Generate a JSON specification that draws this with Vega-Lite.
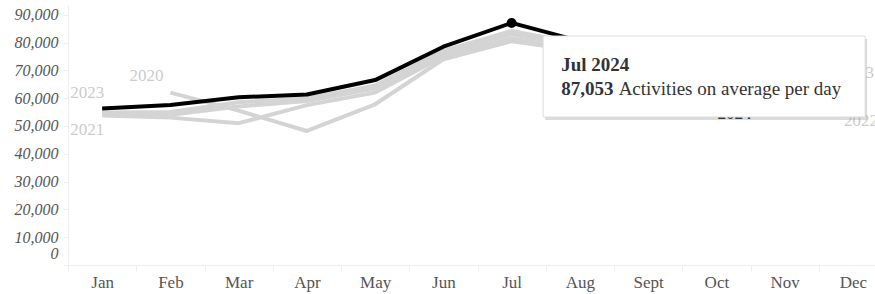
{
  "$schema": "https://vega.github.io/schema/vega-lite/v6.json",
  "width": 807,
  "height": 260,
  "autosize": "none",
  "padding": {"left": 68, "top": 5, "right": 0, "bottom": 29},
  "background": "white",
  "config": {"view": {"stroke": null}, "font": "Liberation Serif"},
  "datasets": {
    "activity": [
      {"year": 2020, "month": "Feb", "value": 62000},
      {"year": 2020, "month": "Mar", "value": 55500},
      {"year": 2020, "month": "Apr", "value": 48200},
      {"year": 2020, "month": "May", "value": 57800},
      {"year": 2020, "month": "Jun", "value": 74000},
      {"year": 2020, "month": "Jul", "value": 80500},
      {"year": 2020, "month": "Aug", "value": 77000},
      {"year": 2020, "month": "Sept", "value": 70000},
      {"year": 2020, "month": "Oct", "value": 65000},
      {"year": 2020, "month": "Nov", "value": 62000},
      {"year": 2020, "month": "Dec", "value": 60000},
      {"year": 2021, "month": "Jan", "value": 53800},
      {"year": 2021, "month": "Feb", "value": 53000},
      {"year": 2021, "month": "Mar", "value": 51000},
      {"year": 2021, "month": "Apr", "value": 57500},
      {"year": 2021, "month": "May", "value": 62000},
      {"year": 2021, "month": "Jun", "value": 75000},
      {"year": 2021, "month": "Jul", "value": 81500},
      {"year": 2021, "month": "Aug", "value": 77500},
      {"year": 2021, "month": "Sept", "value": 70000},
      {"year": 2021, "month": "Oct", "value": 64000},
      {"year": 2021, "month": "Nov", "value": 60000},
      {"year": 2021, "month": "Dec", "value": 58000},
      {"year": 2022, "month": "Jan", "value": 54200},
      {"year": 2022, "month": "Feb", "value": 54000},
      {"year": 2022, "month": "Mar", "value": 57000},
      {"year": 2022, "month": "Apr", "value": 59000},
      {"year": 2022, "month": "May", "value": 63500},
      {"year": 2022, "month": "Jun", "value": 76000},
      {"year": 2022, "month": "Jul", "value": 83000},
      {"year": 2022, "month": "Aug", "value": 78500},
      {"year": 2022, "month": "Sept", "value": 70000},
      {"year": 2022, "month": "Oct", "value": 66000},
      {"year": 2022, "month": "Nov", "value": 60000},
      {"year": 2022, "month": "Dec", "value": 57000},
      {"year": 2023, "month": "Jan", "value": 54800},
      {"year": 2023, "month": "Feb", "value": 55000},
      {"year": 2023, "month": "Mar", "value": 58500},
      {"year": 2023, "month": "Apr", "value": 60000},
      {"year": 2023, "month": "May", "value": 64500},
      {"year": 2023, "month": "Jun", "value": 77000},
      {"year": 2023, "month": "Jul", "value": 84200},
      {"year": 2023, "month": "Aug", "value": 79500},
      {"year": 2023, "month": "Sept", "value": 72000},
      {"year": 2023, "month": "Oct", "value": 66000},
      {"year": 2023, "month": "Nov", "value": 64000},
      {"year": 2023, "month": "Dec", "value": 64000},
      {"year": 2024, "month": "Jan", "value": 56300},
      {"year": 2024, "month": "Feb", "value": 57500},
      {"year": 2024, "month": "Mar", "value": 60300},
      {"year": 2024, "month": "Apr", "value": 61300},
      {"year": 2024, "month": "May", "value": 66500},
      {"year": 2024, "month": "Jun", "value": 78500},
      {"year": 2024, "month": "Jul", "value": 87053},
      {"year": 2024, "month": "Aug", "value": 80500},
      {"year": 2024, "month": "Sept", "value": 68000},
      {"year": 2024, "month": "Oct", "value": 58000}
    ]
  },
  "data": {"name": "activity"},
  "encoding": {
    "x": {
      "field": "month",
      "type": "ordinal",
      "sort": ["Jan", "Feb", "Mar", "Apr", "May", "Jun", "Jul", "Aug", "Sept", "Oct", "Nov", "Dec"],
      "scale": {"domain": ["Jan", "Feb", "Mar", "Apr", "May", "Jun", "Jul", "Aug", "Sept", "Oct", "Nov", "Dec"], "range": [0, 819], "paddingInner": 0, "paddingOuter": 0},
      "axis": {
        "title": null,
        "labelAngle": 0,
        "labelFont": "Liberation Serif",
        "labelFontSize": 17,
        "labelColor": "#555555",
        "labelPadding": 3,
        "domainColor": "#eeeeee",
        "tickColor": "#eeeeee",
        "tickBand": "extent",
        "tickSize": 6,
        "grid": false
      }
    },
    "y": {
      "field": "value",
      "type": "quantitative",
      "scale": {"domain": [0, 93500], "nice": false},
      "axis": {
        "title": null,
        "values": [0, 10000, 20000, 30000, 40000, 50000, 60000, 70000, 80000, 90000],
        "labelExpr": "format(datum.value, ',')",
        "labelOverlap": false,
        "labelFlush": false,
        "labelFont": "Liberation Serif",
        "labelFontSize": 16,
        "labelFontStyle": "italic",
        "labelColor": "#555555",
        "labelPadding": 5,
        "labelOffset": {"condition": {"test": "datum.value === 0", "value": -12}, "value": 0},
        "domainColor": "#eeeeee",
        "tickColor": "#eeeeee",
        "tickSize": 5,
        "grid": false
      }
    }
  },
  "layer": [
    {
      "transform": [{"filter": "datum.year !== 2024"}],
      "mark": {"type": "line", "color": "#d4d4d4", "strokeWidth": 4, "strokeJoin": "round"},
      "encoding": {"detail": {"field": "year", "type": "nominal"}}
    },
    {
      "transform": [{"filter": "datum.year === 2024"}],
      "mark": {"type": "line", "color": "#000000", "strokeWidth": 4, "strokeJoin": "round"}
    },
    {
      "transform": [{"filter": "datum.year === 2024 && datum.month === 'Jul'"}],
      "mark": {"type": "point", "filled": true, "color": "#000000", "size": 100, "opacity": 1}
    },
    {
      "transform": [{"filter": "datum.year === 2023 && datum.month === 'Jan'"}],
      "mark": {"type": "text", "color": "#cccccc", "fontSize": 17, "dx": -15, "dy": -20, "baseline": "middle"},
      "encoding": {"text": {"field": "year", "type": "nominal"}}
    },
    {
      "transform": [{"filter": "datum.year === 2021 && datum.month === 'Jan'"}],
      "mark": {"type": "text", "color": "#cccccc", "fontSize": 17, "dx": -15, "dy": 15, "baseline": "middle"},
      "encoding": {"text": {"field": "year", "type": "nominal"}}
    },
    {
      "transform": [{"filter": "datum.year === 2020 && datum.month === 'Feb'"}],
      "mark": {"type": "text", "color": "#cccccc", "fontSize": 17, "dx": -24, "dy": -17, "baseline": "middle"},
      "encoding": {"text": {"field": "year", "type": "nominal"}}
    },
    {
      "transform": [{"filter": "datum.year === 2023 && datum.month === 'Dec'"}],
      "mark": {"type": "text", "color": "#cccccc", "fontSize": 17, "dx": 4, "dy": -14, "baseline": "middle"},
      "encoding": {"text": {"field": "year", "type": "nominal"}}
    },
    {
      "transform": [{"filter": "datum.year === 2022 && datum.month === 'Dec'"}],
      "mark": {"type": "text", "color": "#cccccc", "fontSize": 17, "dx": 8, "dy": 15, "baseline": "middle"},
      "encoding": {"text": {"field": "year", "type": "nominal"}}
    },
    {
      "transform": [{"filter": "datum.year === 2024 && datum.month === 'Oct'"}],
      "mark": {"type": "text", "color": "#000000", "fontSize": 17, "fontWeight": "bold", "dx": 18, "dy": 10, "baseline": "middle"},
      "encoding": {"text": {"field": "year", "type": "nominal"}}
    },
    {
      "transform": [{"filter": "datum.year === 2024 && datum.month === 'Jul'"}],
      "mark": {"type": "rect", "fill": "#999999", "opacity": 0.35, "width": 322, "xOffset": 194.5, "yOffset": 3, "y2Offset": 3},
      "encoding": {
        "y": {"datum": 82350, "type": "quantitative"},
        "y2": {"datum": 53220}
      }
    },
    {
      "transform": [{"filter": "datum.year === 2024 && datum.month === 'Jul'"}],
      "mark": {"type": "rect", "fill": "#ffffff", "stroke": "#dddddd", "strokeWidth": 1, "width": 322, "xOffset": 192.5},
      "encoding": {
        "y": {"datum": 82350, "type": "quantitative"},
        "y2": {"datum": 53220}
      }
    },
    {
      "transform": [
        {"filter": "datum.year === 2024 && datum.month === 'Jul'"},
        {"calculate": "datum.month + ' ' + datum.year", "as": "tipTitle"}
      ],
      "mark": {"type": "text", "color": "#333333", "fontSize": 19, "fontWeight": "bold", "align": "left", "baseline": "middle", "dx": 49.5, "dy": 42},
      "encoding": {"text": {"field": "tipTitle", "type": "nominal"}}
    },
    {
      "transform": [{"filter": "datum.year === 2024 && datum.month === 'Jul'"}],
      "mark": {"type": "text", "color": "#333333", "fontSize": 19, "fontWeight": "bold", "align": "left", "baseline": "middle", "dx": 49.5, "dy": 66},
      "encoding": {"text": {"field": "value", "type": "quantitative", "format": ","}}
    },
    {
      "transform": [{"filter": "datum.year === 2024 && datum.month === 'Jul'"}],
      "mark": {"type": "text", "color": "#333333", "fontSize": 19, "align": "left", "baseline": "middle", "dx": 107, "dy": 66},
      "encoding": {"text": {"value": "Activities on average per day"}}
    }
  ]
}
